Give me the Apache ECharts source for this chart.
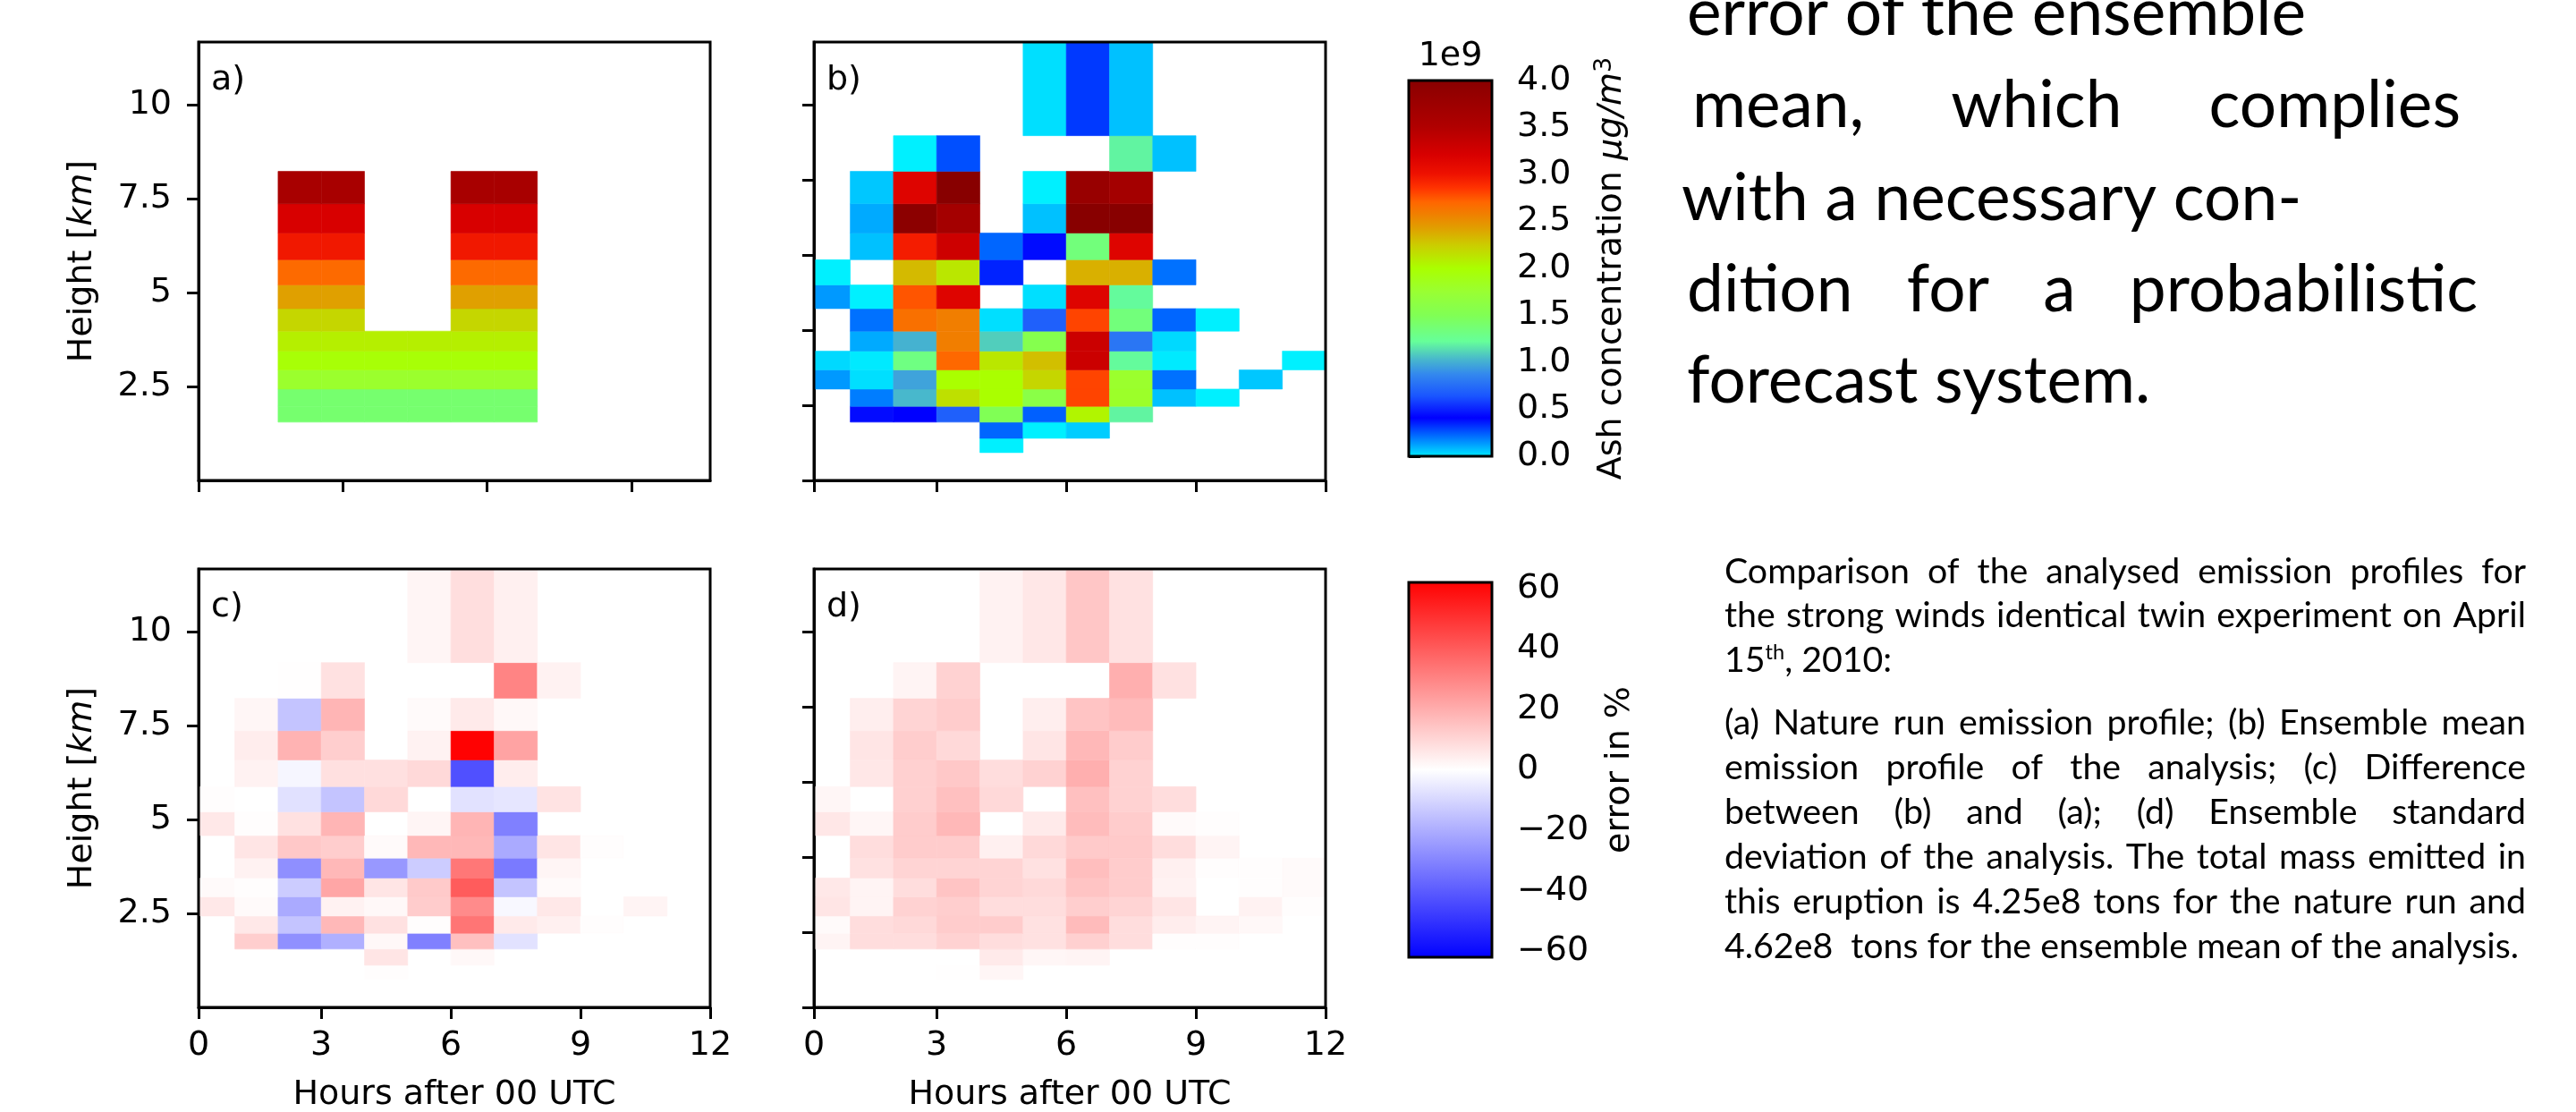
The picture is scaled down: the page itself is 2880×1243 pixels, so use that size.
<!DOCTYPE html>
<html><head><meta charset="utf-8">
<script src="https://cdn.jsdelivr.net/npm/echarts@6.0.0/dist/echarts.min.js"></script>
<style>html,body{margin:0;padding:0;background:#fff}#c{width:2880px;height:1243px}</style>
</head><body><div id="c"></div>
<script>
// ================= DATA =================
const hourEdges = [0,1,2,3,4,5,6,7,8,9,10,11,12];
const heightEdges = [0.74,1.12,1.55,1.97,2.43,2.94,3.44,3.97,4.57,5.2,5.87,6.58,7.36,8.22,9.17,11.66];
const timeAxisStart = 0.16;              // plotted time range starts slightly after 0 h (first bin partly clipped)
const hourTicks = [timeAxisStart,3,6,9,12];
const hourTickLabels = ['0','3','6','9','12'];
const panelAHourTicks = [0.16,3.5,6.84,10.18];
const heightTicksLeft = [2.5,5,7.5,10];
const heightTicksRight = [0,2,4,6,8,10];
const concTicks = [0,0.5,1,1.5,2,2.5,3,3.5,4];
const errTicks = [-60,-40,-20,0,20,40,60];
const n = null;
// rows from lowest level (row 0) to highest (row 14); 12 hourly columns
// (a) nature run, units 1e9 ug/m3
const natureRun = [
 [n,n,n,n,n,n,n,n,n,n,n,n],
 [n,n,n,n,n,n,n,n,n,n,n,n],
 [n,n,1.4,1.4,1.4,1.4,1.4,1.4,n,n,n,n],
 [n,n,1.4,1.4,1.4,1.4,1.4,1.4,n,n,n,n],
 [n,n,1.78,1.78,1.78,1.78,1.78,1.78,n,n,n,n],
 [n,n,1.97,1.97,1.97,1.97,1.97,1.97,n,n,n,n],
 [n,n,2.08,2.08,2.08,2.08,2.08,2.08,n,n,n,n],
 [n,n,2.2,2.2,n,n,2.2,2.2,n,n,n,n],
 [n,n,2.42,2.42,n,n,2.42,2.42,n,n,n,n],
 [n,n,2.68,2.68,n,n,2.68,2.68,n,n,n,n],
 [n,n,2.97,2.97,n,n,2.97,2.97,n,n,n,n],
 [n,n,3.2,3.2,n,n,3.2,3.2,n,n,n,n],
 [n,n,3.6,3.6,n,n,3.6,3.6,n,n,n,n],
 [n,n,n,n,n,n,n,n,n,n,n,n],
 [n,n,n,n,n,n,n,n,n,n,n,n]
];
// (b) ensemble mean of the analysis, units 1e9 ug/m3
const ensembleMean = [
 [n,n,n,n,0.0,n,n,n,n,n,n,n],
 [n,n,n,n,0.24,0.0,0.06,n,n,n,n,n],
 [n,0.45,0.42,0.7,1.5,0.25,2.05,1.2,n,n,n,n],
 [n,0.2,1.04,2.15,2.0,1.6,2.8,1.8,0.08,0.0,n,n],
 [0.15,0.03,0.97,2.0,2.0,2.2,2.8,1.78,0.22,n,0.07,n],
 [0.04,0.01,1.32,2.69,2.12,2.3,3.3,1.22,0.01,n,n,0.0],
 [n,0.12,1.02,2.58,1.1,1.55,3.3,0.8,0.04,n,n,n],
 [n,0.22,2.65,2.58,0.03,0.7,2.8,1.35,0.24,0.0,n,n],
 [0.15,0.0,2.75,3.15,n,0.03,3.15,1.22,n,n,n,n],
 [0.0,n,2.32,2.12,0.36,n,2.36,2.36,0.22,n,n,n],
 [n,0.08,2.95,3.28,0.24,0.4,1.35,3.15,n,n,n,n],
 [n,0.12,3.95,3.65,n,0.08,4.0,4.0,n,n,n,n],
 [n,0.07,3.15,4.0,n,0.0,3.8,3.65,n,n,n,n],
 [n,n,0.0,0.28,n,n,n,1.2,0.08,n,n,n],
 [n,n,n,n,n,0.03,0.32,0.08,n,n,n,n]
];
// (c) difference (b)-(a), percent
const differencePct = [
 [n,n,n,n,0.4,n,n,n,n,n,n,n],
 [n,n,n,n,6.3,n,1.7,n,n,n,n,n],
 [n,11.9,-27,-19.2,1.7,-30.9,15.3,-7,n,n,n,n],
 [n,5.6,-14.3,17.3,7.3,0.5,33.5,5.1,3.6,0.5,n,n],
 [5.6,1.2,-20.7,3.2,1.7,12.4,28.2,-1.7,5.6,n,2.7,n],
 [1.2,0.5,-12.4,21.6,6.3,13,39.6,-14.3,1.2,n,n,n],
 [n,3.2,-27.2,17.3,-25,-12.4,33,-32.3,2.4,n,n,n],
 [n,6.3,13.4,12.2,1.2,17.3,17.3,-20.7,6.3,0.5,n,n],
 [5.6,0.5,7.3,18,n,2.4,18,-30.9,n,n,n,n],
 [0.5,n,-7.3,-14.3,9.2,n,-7.0,-6.1,6.8,n,n,n],
 [n,3.2,-2.3,7.5,7.5,9.2,-42.5,4.4,n,n,n,n],
 [n,4.4,18.5,11.9,n,3.2,61.5,22.4,n,n,n,n],
 [n,2.2,-14.3,18,n,1.2,5.1,1.7,n,n,n,n],
 [n,n,0.3,7.3,n,n,n,29.9,3.2,n,n,n],
 [n,n,n,n,n,2.4,8.0,3.6,n,n,n,n]
];
// (d) ensemble standard deviation, percent
const ensembleStdPct = [
 [n,n,n,0.3,2.2,n,n,n,n,n,n,n],
 [n,n,n,n,5.1,2.2,2.7,n,n,n,n,n],
 [2.7,8.3,8.3,11,8.3,7.3,11.4,8.3,0.5,0.5,n,n],
 [1.2,8.3,9.2,12.4,12.4,7.3,16.6,8.3,4.4,2.7,1.7,n],
 [6.3,2.7,11,11.9,8.3,8.3,11.9,10.4,6.3,n,3.2,0.5],
 [5.6,2.7,8.3,14.3,10.4,9.2,14.3,12.4,3.2,n,0.5,1.2],
 [n,7.3,10.4,10.4,10.4,7.3,15.8,12.4,3.6,0.5,0.5,1.2],
 [n,8.3,12.4,12.4,3.6,9.2,13,13,8.3,2.7,n,n],
 [5.8,2.2,12.4,17.3,n,5.1,16.3,12.4,1.2,0.5,n,n],
 [2.2,n,11.4,15.3,9.2,n,15.3,10.9,8.3,n,n,n],
 [n,5.8,11.4,13.4,8.3,10.9,19.4,10.9,n,n,n,n],
 [n,6.3,12.2,9.2,n,6.3,17.3,12.4,n,n,n,n],
 [n,4.1,10.4,12.4,n,4.1,14.3,16.6,n,n,n,n],
 [n,n,2.7,11,n,n,n,19.4,7.3,n,n,n],
 [n,n,n,n,3.2,5.8,13.9,7.3,n,n,n,n]
];
const panelLabels = ['a)','b)','c)','d)'];
const bigTextLines = [
 {t:'error of the ensemble', x:1886, base:42, to:null},
 {t:'mean, which complies', x:1892, base:145, to:2751},
 {t:'with a necessary con-', x:1880, base:249, to:null},
 {t:'dition for a probabilistic', x:1886, base:351, to:2770},
 {t:'forecast system.', x:1886, base:453, to:null}
];
const captionLines = [
 {t:'Comparison of the analysed emission profiles for', j:true},
 {t:'the strong winds identical twin experiment on April', j:true},
 {t:'15|th|, 2010:', sup:true},
 {t:'(a) Nature run emission profile; (b) Ensemble mean', j:true},
 {t:'emission profile of the analysis; (c) Difference', j:true},
 {t:'between (b) and (a); (d) Ensemble standard', j:true},
 {t:'deviation of the analysis. The total mass emitted in', j:true},
 {t:'this eruption is 4.25e8 tons for the nature run and', j:true},
 {t:'4.62e8  tons for the ensemble mean of the analysis.', j:false}
];
const captionBaselines = [653,702,752,822,872,922,972,1022,1072];

// ================= COLOUR MAPS =================
const ashStops = [[0.0,'#00f0ff'],[0.12,'#00aaff'],[0.24,'#0066ff'],[0.42,'#0000ff'],[0.65,'#1a55ff'],[0.88,'#3388ee'],[1.04,'#48b8cc'],[1.23,'#66ff99'],[1.5,'#80ff55'],[1.75,'#99ff33'],[2.0,'#aaff00'],[2.25,'#cccc00'],[2.42,'#e0a000'],[2.57,'#f08000'],[2.7,'#ff6600'],[2.85,'#ff3300'],[3.0,'#ee1100'],[3.2,'#d80000'],[3.5,'#b00000'],[4.0,'#880000']];
const ERR_LIM = 62;
function hex2rgb(h){return [parseInt(h.substr(1,2),16),parseInt(h.substr(3,2),16),parseInt(h.substr(5,2),16)];}
function rgbStr(c){return 'rgb('+c.map(v=>Math.round(v)).join(',')+')';}
function ashColor(v){
  if (v<=ashStops[0][0]) return ashStops[0][1];
  for (let i=1;i<ashStops.length;i++){
    if (v<=ashStops[i][0]){
      const a=ashStops[i-1], b=ashStops[i]; const t=(v-a[0])/(b[0]-a[0]);
      const ca=hex2rgb(a[1]), cb=hex2rgb(b[1]);
      return rgbStr(ca.map((x,k)=>x+(cb[k]-x)*t));
    }
  }
  return ashStops[ashStops.length-1][1];
}
function errColor(v){
  const t=Math.max(-1,Math.min(1,v/ERR_LIM));
  if (t>=0) return rgbStr([255,255*(1-t),255*(1-t)]);
  return rgbStr([255*(1+t),255*(1+t),255]);
}

// ================= LAYOUT =================
const FONT='"DejaVu Sans"';
const FS=38;
const PW=572, PH=490;
const panels=[
 {left:222, top:47, m:natureRun, cmap:ashColor, xt:panelAHourTicks, xl:false, yt:heightTicksLeft, yl:true, xName:false},
 {left:910, top:47, m:ensembleMean, cmap:ashColor, xt:hourTicks, xl:false, yt:heightTicksRight, yl:false, xName:false},
 {left:222, top:636, m:differencePct, cmap:errColor, xt:hourTicks, xl:true, yt:heightTicksLeft, yl:true, xName:true},
 {left:910, top:636, m:ensembleStdPct, cmap:errColor, xt:hourTicks, xl:true, yt:heightTicksRight, yl:false, xName:true}
];
const axisLineStyle={show:true,onZero:false,lineStyle:{color:'#000',width:3}};
const tickStyle={color:'#000',width:3};
const labelStyle={fontFamily:FONT,fontSize:FS,color:'#000'};
function hourLabel(v){const k=hourTicks.indexOf(v);return k>=0?hourTickLabels[k]:String(v);}

const grids=[], xAxes=[], yAxes=[], series=[];
panels.forEach((p,i)=>{
  grids.push({left:p.left,top:p.top,width:PW,height:PH,containLabel:false,outerBoundsMode:'none'});
  xAxes.push({gridIndex:i,type:'value',min:timeAxisStart,max:hourEdges[hourEdges.length-1],
    axisLine:axisLineStyle,
    axisTick:{show:true,inside:false,length:13,customValues:p.xt,lineStyle:tickStyle},
    axisLabel:Object.assign({show:p.xl,customValues:hourTicks,margin:24,formatter:hourLabel},labelStyle),
    splitLine:{show:false},
    name:p.xName?'Hours after 00 UTC':'',nameLocation:'middle',nameGap:79,
    nameTextStyle:{fontFamily:FONT,fontSize:FS,color:'#000'}});
  yAxes.push({gridIndex:i,type:'value',min:0,max:heightEdges[heightEdges.length-1],
    axisLine:axisLineStyle,
    axisTick:{show:true,inside:false,length:13,customValues:p.yt,lineStyle:tickStyle},
    axisLabel:Object.assign({show:p.yl,customValues:p.yt,margin:30,formatter:v=>String(v)},labelStyle),
    splitLine:{show:false},
    name:p.yl?'{n|Height [}{i|km}{n|]}':'',nameLocation:'middle',nameRotate:90,nameGap:111,
    nameTextStyle:{rich:{n:{fontFamily:FONT,fontSize:FS,color:'#000'},i:{fontFamily:FONT,fontSize:FS,fontStyle:'italic',color:'#000'}}}});
  const data=[];
  p.m.forEach((row,r)=>row.forEach((v,c)=>{ if(v!==null) data.push([hourEdges[c],hourEdges[c+1],heightEdges[r],heightEdges[r+1],v]); }));
  const cmap=p.cmap;
  series.push({type:'custom',xAxisIndex:i,yAxisIndex:i,data:data,clip:true,silent:true,animation:false,z:2,
    encode:{x:[0,1],y:[2,3]},
    renderItem:(params,api)=>{
      const a=api.coord([api.value(0),api.value(2)]);
      const b=api.coord([api.value(1),api.value(3)]);
      const col=cmap(api.value(4));
      return {type:'rect',shape:{x:a[0],y:b[1],width:b[0]-a[0],height:a[1]-b[1]},style:{fill:col,stroke:col,lineWidth:0.6}};
    }});
  const lab=panelLabels[i];
  series.push({type:'custom',xAxisIndex:i,yAxisIndex:i,data:[[1,1]],silent:true,animation:false,z:10,
    renderItem:(params,api)=>{
      const cs=params.coordSys;
      return {type:'group',children:[
        {type:'rect',shape:{x:cs.x,y:cs.y,width:cs.width,height:cs.height},style:{fill:'none',stroke:'#000',lineWidth:3}},
        {type:'text',x:cs.x+14,y:cs.y+43,style:{text:lab,font:FS+'px '+FONT,fill:'#000',align:'left',verticalAlign:'middle',textAlign:'left',textVerticalAlign:'middle'}}
      ]};
    }});
});

// colourbars
const cbars=[
 {top:90,h:420,min:0,max:4,ticks:concTicks,fmt:v=>v.toFixed(1),name:'{n|Ash concentration }{i|μg/m}{s|3}',gap:112,top_text:'1e9',
  stops:ashStops.map(s=>({offset:1-s[0]/4,color:s[1]})).reverse()},
 {top:651,h:419,min:-ERR_LIM,max:ERR_LIM,ticks:errTicks,fmt:v=>v<0?'\u2212'+Math.abs(v):String(v),name:'{n|error in %}',gap:121,top_text:'',
  stops:[{offset:0,color:'#ff0000'},{offset:0.5,color:'#ffffff'},{offset:1,color:'#0000ff'}]}
];
cbars.forEach((cb,k)=>{
  const gi=4+k;
  grids.push({left:1575,top:cb.top,width:93,height:cb.h,containLabel:false,outerBoundsMode:'none'});
  xAxes.push({gridIndex:gi,type:'value',min:0,max:1,show:false});
  yAxes.push({gridIndex:gi,type:'value',min:cb.min,max:cb.max,position:'right',
    axisLine:{show:false},
    axisTick:{show:true,inside:false,length:13,customValues:cb.ticks,lineStyle:tickStyle},
    axisLabel:Object.assign({show:true,customValues:cb.ticks,margin:28,formatter:cb.fmt},labelStyle),
    splitLine:{show:false},
    name:cb.name,nameLocation:'middle',nameRotate:90,nameGap:cb.gap,
    nameTextStyle:{rich:{
      n:{fontFamily:FONT,fontSize:FS,color:'#000',lineHeight:44},
      i:{fontFamily:FONT,fontSize:FS,fontStyle:'italic',color:'#000',lineHeight:44},
      s:{fontFamily:FONT,fontSize:27,color:'#000',verticalAlign:'top',lineHeight:44}}}});
  const stops=cb.stops, tt=cb.top_text;
  series.push({type:'custom',xAxisIndex:gi,yAxisIndex:gi,data:[[0,cb.min,1,cb.max]],silent:true,animation:false,z:5,
    renderItem:(params,api)=>{
      const a=api.coord([api.value(0),api.value(1)]);
      const b=api.coord([api.value(2),api.value(3)]);
      const ch=[{type:'rect',shape:{x:a[0],y:b[1],width:b[0]-a[0],height:a[1]-b[1]},
        style:{fill:new echarts.graphic.LinearGradient(0,0,0,1,stops),stroke:'#000',lineWidth:3}}];
      if(tt) ch.push({type:'text',x:(a[0]+b[0])/2,y:b[1]-8,style:{text:tt,font:FS+'px '+FONT,fill:'#000',align:'center',verticalAlign:'bottom',textAlign:'center',textVerticalAlign:'bottom'}});
      return {type:'group',children:ch};
    }});
});

// ================= TEXT BLOCKS =================
const mctx=document.createElement('canvas').getContext('2d');
function tw(s,size,fam){mctx.font=size+'px '+fam;return mctx.measureText(s).width;}
const TFAM='Lato';
function tEl(s,x,base,size){
  return {type:'text',x:x,y:base-0.36*size,silent:true,
    style:{text:s,font:size+'px '+TFAM,fill:'#000',align:'left',verticalAlign:'middle',textAlign:'left',textVerticalAlign:'middle'}};
}
function justify(s,x0,x1,base,size,out){
  const words=s.split(/\s+/);
  const ws=words.map(w=>tw(w,size,TFAM));
  const tot=ws.reduce((a,b)=>a+b,0);
  const gap=(x1-x0-tot)/(words.length-1);
  let x=x0;
  words.forEach((w,k)=>{out.push(tEl(w,x,base,size)); x+=ws[k]+gap;});
}
const graphics=[];
const bigFS=Math.round(693/tw('with a necessary con-',100,TFAM)*100*10)/10;
bigTextLines.forEach(l=>{
  if(l.to) justify(l.t,l.x,l.to,l.base,bigFS,graphics);
  else graphics.push(tEl(l.t,l.x,l.base,bigFS));
});
const capFS=Math.round(889/tw('4.62e8  tons for the ensemble mean of the analysis.',100,TFAM)*100*10)/10;
const CAP_X0=1928, CAP_X1=2824;
captionLines.forEach((l,i)=>{
  const base=captionBaselines[i];
  if(l.sup){
    const parts=l.t.split('|');
    let x=CAP_X0;
    graphics.push(tEl(parts[0],x,base,capFS)); x+=tw(parts[0],capFS,TFAM);
    const sfs=capFS*0.6;
    graphics.push(tEl(parts[1],x,base-capFS*0.36,sfs)); x+=tw(parts[1],sfs,TFAM);
    graphics.push(tEl(parts[2],x,base,capFS));
  } else if(l.j) justify(l.t,CAP_X0,CAP_X1,base,capFS,graphics);
  else graphics.push(tEl(l.t,CAP_X0,base,capFS));
});

const chart=echarts.init(document.getElementById('c'),null,{renderer:'canvas',width:2880,height:1243});
chart.setOption({
  backgroundColor:'#ffffff',
  animation:false,
  grid:grids, xAxis:xAxes, yAxis:yAxes, series:series,
  graphic:{elements:graphics}
});
</script>
</body></html>
